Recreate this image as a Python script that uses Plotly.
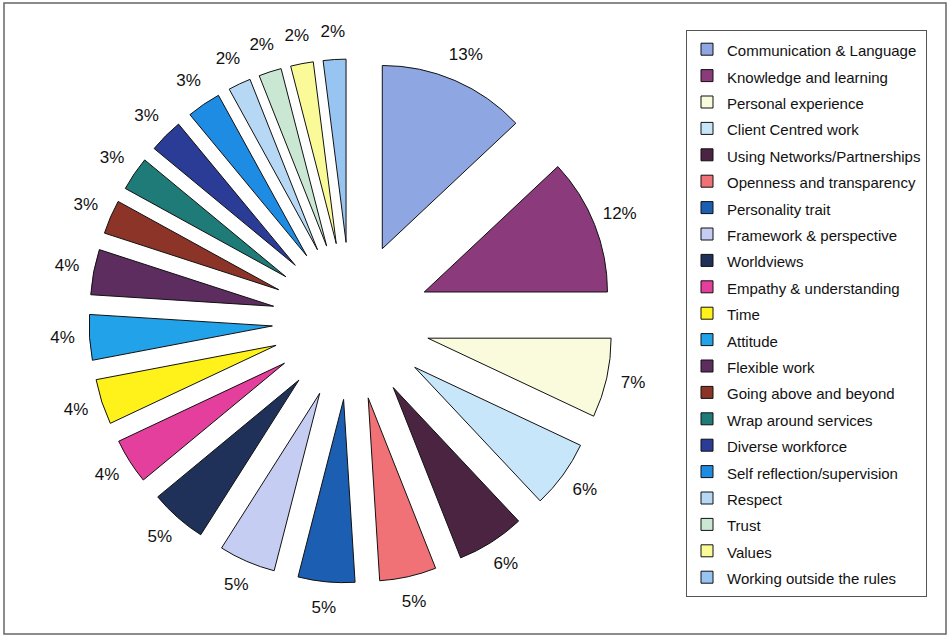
import plotly.graph_objects as go

categories = [
    "Communication & Language", "Knowledge and learning", "Personal experience",
    "Client Centred work", "Using Networks/Partnerships", "Openness and transparency",
    "Personality trait", "Framework & perspective", "Worldviews",
    "Empathy & understanding", "Time", "Attitude", "Flexible work",
    "Going above and beyond", "Wrap around services", "Diverse workforce",
    "Self reflection/supervision", "Respect", "Trust", "Values",
    "Working outside the rules",
]
values = [13, 12, 7, 6, 6, 5, 5, 5, 5, 4, 4, 4, 4, 3, 3, 3, 3, 2, 2, 2, 2]
colors = [
    "#8ea6e2", "#8b3a7c", "#fafadc", "#c8e6fa", "#4b2441", "#f07276",
    "#1c5fb2", "#c6cdf2", "#1f3059", "#e43f9c", "#fff21a", "#22a2e8",
    "#5c2d5e", "#8c3428", "#1f7b78", "#2b3c97", "#1f8ce4", "#b6d8f5",
    "#c9e7d3", "#fbfa98", "#97c4f1",
]

W, H = 948, 635
CX, CY = 351, 314          # pie centre (px from left, px from bottom)
PIE_R = 262                # outer radius incl. pull (px)
POLAR_R = 300              # radius of the label overlay domain (px)
LABEL_R = 289              # label distance from centre (px)

PIE_DOMAIN = dict(x=[(CX - PIE_R) / W, (CX + PIE_R) / W],
                  y=[(CY - PIE_R) / H, (CY + PIE_R) / H])
POLAR_DOMAIN = dict(x=[(CX - POLAR_R) / W, (CX + POLAR_R) / W],
                    y=[(CY - POLAR_R) / H, (CY + POLAR_R) / H])

legend_labels = ['<span style="font-size:15px">%s</span>' % c for c in categories]

# angular mid-points of each slice (degrees, clockwise from 12 o'clock)
total = sum(values)
mids = []
acc = 0
for v in values:
    mids.append(360.0 * (acc + v / 2.0) / total)
    acc += v

fig = go.Figure()
fig.add_trace(go.Pie(
    labels=legend_labels,
    values=values,
    sort=False,
    direction="clockwise",
    rotation=0,
    pull=[0.43] * len(values),
    marker=dict(colors=colors, line=dict(color="#111111", width=1)),
    textinfo="none",
    domain=PIE_DOMAIN,
    hoverinfo="label+percent",
))

fig.add_trace(go.Scatterpolar(
    theta=mids,
    r=[LABEL_R] * len(values),
    mode="text",
    text=["%d%%" % v for v in values],
    textposition="middle center",
    textfont=dict(family="Liberation Sans, Arial, sans-serif", size=17, color="#111111"),
    cliponaxis=False,
    showlegend=False,
    hoverinfo="skip",
))

fig.update_layout(
    width=W, height=H,
    margin=dict(l=0, r=0, t=0, b=0, autoexpand=False),
    paper_bgcolor="white",
    font=dict(family="Liberation Sans, Arial, sans-serif", color="#111111"),
    showlegend=True,
    polar=dict(
        domain=POLAR_DOMAIN,
        bgcolor="rgba(0,0,0,0)",
        radialaxis=dict(visible=False, range=[0, POLAR_R]),
        angularaxis=dict(visible=False, rotation=90, direction="clockwise"),
    ),
    legend=dict(
        x=686 / W, y=1 - 30 / H, xanchor="left", yanchor="top",
        bordercolor="#555555", borderwidth=1, bgcolor="white",
        font=dict(size=18, color="#111111"),
        traceorder="normal",
    ),
    shapes=[dict(type="rect", xref="paper", yref="paper",
                 x0=4 / W, x1=946 / W, y0=1 / H, y1=1 - 3 / H,
                 line=dict(color="#666666", width=1.5))],
)

fig.write_html("out.html")
